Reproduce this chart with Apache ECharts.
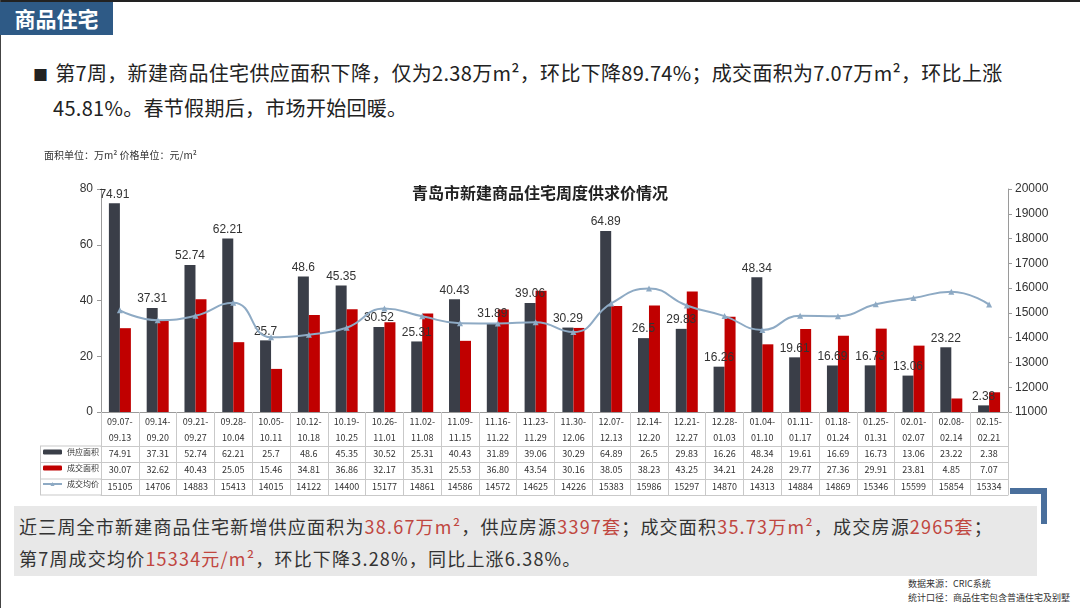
<!DOCTYPE html>
<html>
<head>
<meta charset="utf-8">
<script src="https://cdn.jsdelivr.net/npm/echarts@6/dist/echarts.min.js"></script>
<style>
html,body{margin:0;padding:0;background:#fff;}
body{width:1080px;height:608px;position:relative;overflow:hidden;font-family:"Noto Sans CJK SC","Noto Sans",sans-serif;}
#topline{position:absolute;left:0;top:0;width:1080px;height:2px;background:#222;}
#leftline{position:absolute;left:0;top:0;width:1px;height:608px;background:#444;}
#header{position:absolute;left:0;top:2px;width:113px;height:33px;background:#2e5a86;color:#fff;font-weight:bold;font-size:21px;line-height:33px;text-align:center;}
.bullet{position:absolute;left:33px;font-size:20px;color:#222;white-space:nowrap;letter-spacing:0.3px;}
#box{position:absolute;left:14px;top:506px;width:1023px;height:70px;background:#e8e8e8;}
.btxt{position:absolute;left:19px;font-size:18px;color:#333;white-space:nowrap;letter-spacing:1.2px;}
.red{color:#c0463f;}
#src{position:absolute;left:908px;top:577px;font-size:9px;line-height:14px;color:#333;white-space:nowrap;}
#lh{position:absolute;left:1010px;top:488px;width:37px;height:6px;background:#4a6f9c;}
#lv{position:absolute;left:1041px;top:488px;width:6px;height:36px;background:#4a6f9c;}
#chart{position:absolute;left:0;top:0;width:1080px;height:608px;}
</style>
</head>
<body>
<div id="topline"></div>
<div id="leftline"></div>
<div id="header">商品住宅</div>
<div class="bullet" style="top:58px;"><span style="font-size:15px;margin-right:7px;">■</span>第7周，新建商品住宅供应面积下降，仅为2.38万m²，环比下降89.74%；成交面积为7.07万m²，环比上涨</div>
<div class="bullet" style="top:93px;left:53px;">45.81%。春节假期后，市场开始回暖。</div>
<div id="box"></div>
<div class="btxt" style="top:513px;">近三周全市新建商品住宅新增供应面积为<span class="red">38.67万m²</span>，供应房源<span class="red">3397套</span>；成交面积<span class="red">35.73万m²</span>，成交房源<span class="red">2965套</span>；</div>
<div class="btxt" style="top:545px;">第7周成交均价<span class="red">15334元/m²</span>，环比下降3.28%，同比上涨6.38%。</div>
<div id="src">数据来源：CRIC系统<br>统计口径：商品住宅包含普通住宅及别墅</div>
<div id="lh"></div>
<div id="lv"></div>
<div id="chart"></div>
<script>
const weekStart = ['09.07','09.14','09.21','09.28','10.05','10.12','10.19','10.26','11.02','11.09','11.16','11.23','11.30','12.07','12.14','12.21','12.28','01.04','01.11','01.18','01.25','02.01','02.08','02.15'];
const weekEnd = ['09.13','09.20','09.27','10.04','10.11','10.18','10.25','11.01','11.08','11.15','11.22','11.29','12.06','12.13','12.20','12.27','01.03','01.10','01.17','01.24','01.31','02.07','02.14','02.21'];
const supply = [74.91,37.31,52.74,62.21,25.7,48.6,45.35,30.52,25.31,40.43,31.89,39.06,30.29,64.89,26.5,29.83,16.26,48.34,19.61,16.69,16.73,13.06,23.22,2.38];
const sales = [30.07,32.62,40.43,25.05,15.46,34.81,36.86,32.17,35.31,25.53,36.80,43.54,30.16,38.05,38.23,43.25,34.21,24.28,29.77,27.36,29.91,23.81,4.85,7.07];
const price = [15105,14706,14883,15413,14015,14122,14400,15177,14861,14586,14572,14625,14226,15383,15986,15297,14870,14313,14884,14869,15346,15599,15854,15334];
const leftTicks = {min:0,max:80,interval:20};
const rightTicks = {min:11000,max:20000,interval:1000};

const categories = weekStart.map((s,i)=>s+'-\n'+weekEnd[i]);
const supplyText = supply.map(v=>String(v));
const salesText = sales.map(v=>v.toFixed(2));
const priceText = price.map(v=>String(v));

const tableGray = '#c9c9c9';
const axisGray = '#9a9a9a';
const numFont = '"Liberation Sans", Arial, sans-serif';
const cjk = '"Noto Sans CJK SC", sans-serif';

function rowAxis(data, offset, showLabel){
  return {
    type:'category', data:data, position:'bottom', offset:offset, gridIndex:0,
    axisLine:{show:true, lineStyle:{color:tableGray, width:1}},
    axisTick:{show:false},
    axisLabel:{show:showLabel, interval:0, fontSize:9, color:'#333', margin:3, fontFamily:cjk},
    splitLine:{show:false}
  };
}

const chart = echarts.init(document.getElementById('chart'), null, {renderer:'canvas'});
chart.setOption({
  animation:false,
  backgroundColor:'transparent',
  title:{text:'青岛市新建商品住宅周度供求价情况', left:'center', top:180,
    textStyle:{fontSize:16, fontWeight:'bold', color:'#222', fontFamily:cjk}},
  grid:{left:101, right:72, top:189, bottom:196},
  legend:{
    orient:'vertical', left:42, top:448, padding:0, itemWidth:19, itemHeight:5, itemGap:8,
    textStyle:{fontSize:8, color:'#333', fontFamily:cjk},
    data:['供应面积','成交面积','成交均价']
  },
  graphic:[
    {type:'text', left:44, top:150, style:{text:'面积单位：万m² 价格单位：元/m²', fontSize:10, fill:'#333', fontFamily:cjk}},
    {type:'line', shape:{x1:40,y1:446,x2:101,y2:446}, style:{stroke:tableGray, lineWidth:1}},
    {type:'line', shape:{x1:40,y1:462.5,x2:101,y2:462.5}, style:{stroke:tableGray, lineWidth:1}},
    {type:'line', shape:{x1:40,y1:479,x2:101,y2:479}, style:{stroke:tableGray, lineWidth:1}},
    {type:'line', shape:{x1:40,y1:495,x2:101,y2:495}, style:{stroke:tableGray, lineWidth:1}},
    {type:'line', shape:{x1:40.5,y1:446,x2:40.5,y2:495}, style:{stroke:tableGray, lineWidth:1}}
  ],
  xAxis:[
    {
      type:'category', data:categories, position:'bottom', gridIndex:0,
      axisLine:{show:true, lineStyle:{color:axisGray}},
      axisTick:{show:true, length:83, interval:0, lineStyle:{color:tableGray}},
      axisLabel:{interval:0, fontSize:9, lineHeight:16, color:'#333', margin:2, fontFamily:cjk},
      splitLine:{show:false}
    },
    rowAxis(supplyText, 34, true),
    rowAxis(salesText, 50.5, true),
    rowAxis(priceText, 67, true),
    rowAxis(categories, 83, false)
  ],
  yAxis:[
    {type:'value', min:leftTicks.min, max:leftTicks.max, interval:leftTicks.interval, position:'left',
      axisLine:{show:true, lineStyle:{color:axisGray}},
      axisTick:{show:true, length:4, lineStyle:{color:axisGray}},
      axisLabel:{fontSize:12, color:'#333', margin:8, fontFamily:numFont, formatter:v=>String(v)},
      splitLine:{show:false}},
    {type:'value', min:rightTicks.min, max:rightTicks.max, interval:rightTicks.interval, position:'right',
      axisLine:{show:true, lineStyle:{color:axisGray}},
      axisTick:{show:true, length:4, lineStyle:{color:axisGray}},
      axisLabel:{fontSize:12, color:'#333', margin:7, fontFamily:numFont, formatter:v=>String(v)},
      splitLine:{show:false}}
  ],
  series:[
    {name:'供应面积', type:'bar', xAxisIndex:0, yAxisIndex:0, data:supply, barWidth:11, barGap:'0%',
      itemStyle:{color:'#3a3e48'},
      label:{show:true, position:'top', distance:3, fontSize:12, color:'#333', fontFamily:numFont}},
    {name:'成交面积', type:'bar', xAxisIndex:0, yAxisIndex:0, data:sales, barWidth:11, barGap:'0%',
      itemStyle:{color:'#c00000'}},
    {name:'成交均价', type:'line', xAxisIndex:0, yAxisIndex:1, data:price, smooth:true,
      symbol:'triangle', symbolSize:6,
      lineStyle:{color:'#8eaac4', width:2}, itemStyle:{color:'#8eaac4'}}
  ]
});
</script>
</body>
</html>
